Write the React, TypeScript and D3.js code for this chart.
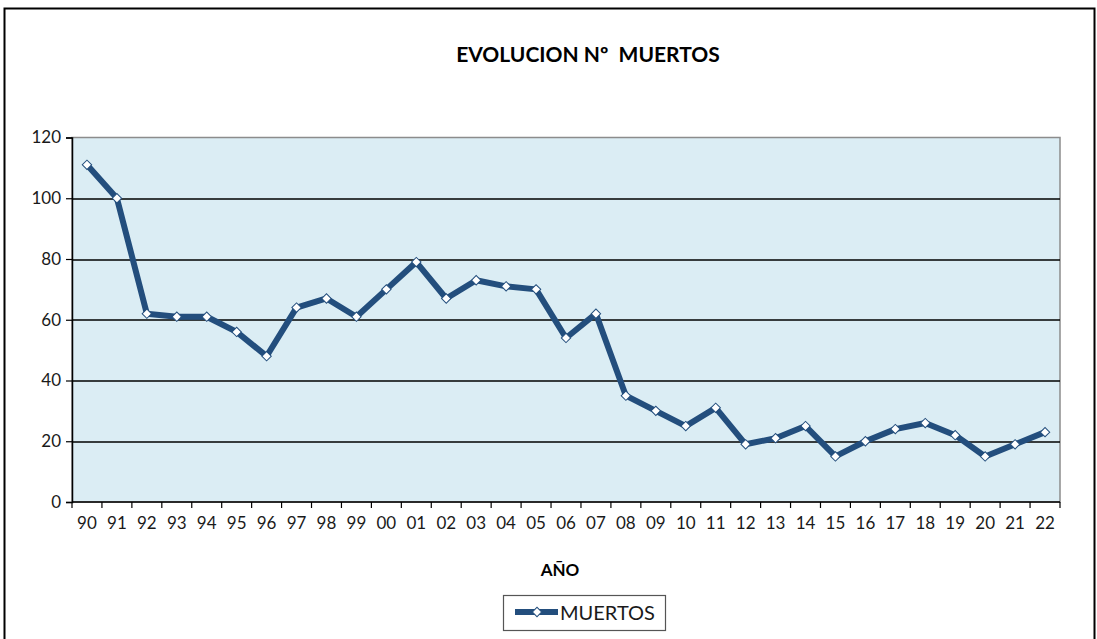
import React, { useEffect, useRef } from 'react';
import * as d3 from 'd3';

const years = ['90', '91', '92', '93', '94', '95', '96', '97', '98', '99', '00', '01', '02', '03', '04', '05', '06', '07', '08', '09', '10', '11', '12', '13', '14', '15', '16', '17', '18', '19', '20', '21', '22'];
const muertos = [111, 100, 62, 61, 61, 56, 48, 64, 67, 61, 70, 79, 67, 73, 71, 70, 54, 62, 35, 30, 25, 31, 19, 21, 25, 15, 20, 24, 26, 22, 15, 19, 23];
const yTicks = [0, 20, 40, 60, 80, 100, 120];

const W = 1097, H = 639;
const FONT = 'Lato, Carlito, Calibri, sans-serif';
const LINE = '#234e7d';

export default function App() {
  const ref = useRef<SVGSVGElement>(null);

  useEffect(() => {
    const svg = d3.select(ref.current);
    svg.selectAll('*').remove();

    const margin = { left: 72, right: W - 1060, top: 137.5, bottom: H - 502 };
    const w = W - margin.left - margin.right;
    const h = H - margin.top - margin.bottom;

    // outer chart frame
    svg.append('rect').attr('x', 4.5).attr('y', 8.5).attr('width', 1090).attr('height', 640)
      .attr('fill', '#fff').attr('stroke', '#000').attr('stroke-width', 2);

    svg.append('text').text('EVOLUCION Nº  MUERTOS')
      .attr('x', 588).attr('y', 62).attr('text-anchor', 'middle')
      .style('font-family', FONT).style('font-weight', 'bold').style('font-size', '21px')
      .style('white-space', 'pre').attr('fill', '#000');

    const g = svg.append('g').attr('transform', `translate(${margin.left}, ${margin.top})`);

    const x = d3.scaleBand().domain(years).range([0, w]);
    const y = d3.scaleLinear().domain([0, 120]).range([h, 0]);

    g.append('rect').attr('width', w).attr('height', h).attr('fill', '#dbedf4')
      .attr('stroke', '#8c8c8c').attr('stroke-width', 1.5);

    g.selectAll('.grid').data(yTicks.filter(d => d > 0 && d < 120)).join('line')
      .attr('class', 'grid')
      .attr('x1', 0).attr('x2', w)
      .attr('y1', d => Math.round(y(d)) + 0.5).attr('y2', d => Math.round(y(d)) + 0.5)
      .attr('stroke', '#000').attr('stroke-width', 1.3);

    const yAxis = g.append('g')
      .call(d3.axisLeft(y).tickValues(yTicks).tickSize(6).tickPadding(5));
    yAxis.select('.domain').attr('stroke', '#000').attr('stroke-width', 1.5);
    yAxis.selectAll('.tick line').attr('stroke', '#000').attr('stroke-width', 1.2);
    yAxis.selectAll('text').style('font-family', FONT).style('font-size', '17px').attr('fill', '#1a1a1a');

    // x axis: ticks on band boundaries, labels centred
    const xAxis = g.append('g').attr('transform', `translate(0, ${h})`);
    xAxis.append('line').attr('x1', 0).attr('x2', w).attr('stroke', '#000').attr('stroke-width', 1.5);
    const bounds = years.map(d => x(d) as number).concat([w]);
    xAxis.selectAll('.xt').data(bounds).join('line').attr('class', 'xt')
      .attr('x1', d => d).attr('x2', d => d).attr('y1', 0).attr('y2', 6)
      .attr('stroke', '#000').attr('stroke-width', 1.2);
    xAxis.selectAll('.xl').data(years).join('text').attr('class', 'xl')
      .attr('x', d => (x(d) as number) + x.bandwidth() / 2).attr('y', 27)
      .attr('text-anchor', 'middle').text(d => d)
      .style('font-family', FONT).style('font-size', '17px').attr('fill', '#1a1a1a');

    svg.append('text').text('AÑO').attr('x', 560).attr('y', 576).attr('text-anchor', 'middle')
      .style('font-family', FONT).style('font-weight', 'bold').style('font-size', '17px').attr('fill', '#000');

    const cx = (i: number) => (x(years[i]) as number) + x.bandwidth() / 2;
    const line = d3.line<number>().x((d, i) => cx(i)).y(d => y(d));
    g.append('path').datum(muertos).attr('d', line).attr('fill', 'none')
      .attr('stroke', LINE).attr('stroke-width', 6).attr('stroke-linejoin', 'round');

    // square marker turned 45deg = Excel diamond
    const diamond = d3.symbol().type(d3.symbolSquare).size(44);
    g.selectAll('.pt').data(muertos).join('path').attr('class', 'pt')
      .attr('d', diamond)
      .attr('transform', (d, i) => `translate(${cx(i)}, ${y(d)}) rotate(45)`)
      .attr('fill', '#fff').attr('stroke', LINE).attr('stroke-width', 1);

    // legend
    const lg = svg.append('g').attr('transform', 'translate(503, 595)');
    lg.append('rect').attr('x', 0.5).attr('y', 0.5).attr('width', 162).attr('height', 35)
      .attr('fill', '#fff').attr('stroke', '#555').attr('stroke-width', 1.2);
    lg.append('line').attr('x1', 12).attr('x2', 55).attr('y1', 17).attr('y2', 17)
      .attr('stroke', LINE).attr('stroke-width', 6);
    lg.append('path').attr('d', diamond).attr('transform', 'translate(34, 17) rotate(45)')
      .attr('fill', '#fff').attr('stroke', LINE).attr('stroke-width', 1);
    lg.append('text').text('MUERTOS').attr('x', 57).attr('y', 25)
      .style('font-family', FONT).style('font-size', '20px').attr('fill', '#1a1a1a');
  }, []);

  return (
    <svg ref={ref} width={W} height={H} style={{ position: 'absolute', left: 0, top: 0, background: '#fff' }} />
  );
}
